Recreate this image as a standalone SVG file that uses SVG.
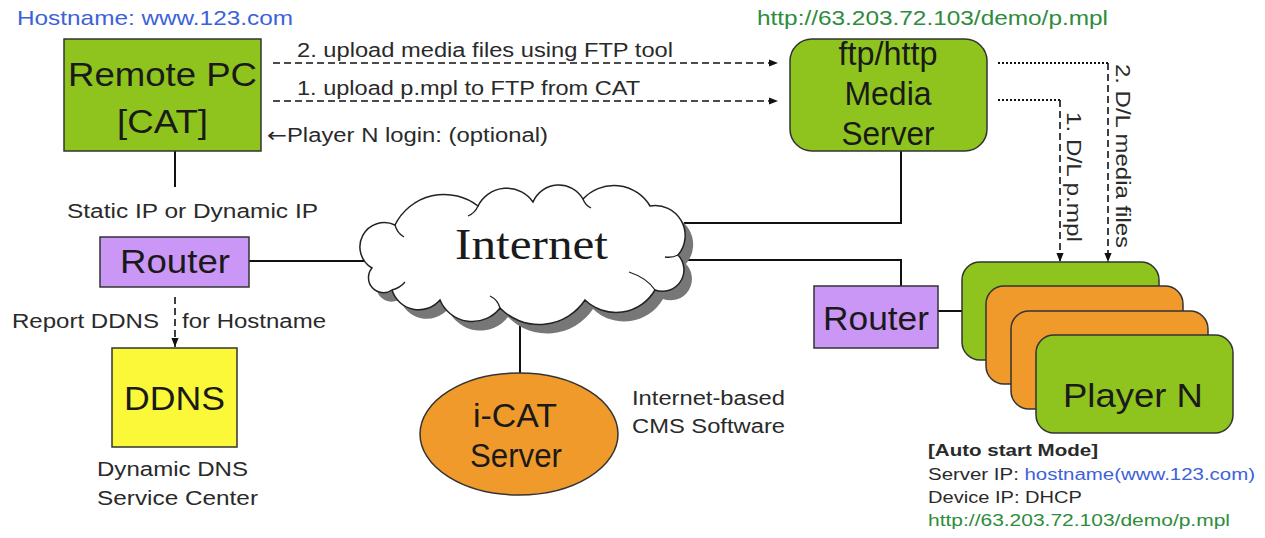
<svg xmlns="http://www.w3.org/2000/svg" width="1265" height="538" viewBox="0 0 1265 538">
<style>
.box{stroke:#333;stroke-width:1.5}
.green{fill:#8fc41f}
.orange{fill:#f09a2c}
.purple{fill:#ca97f7}
.yellow{fill:#fbf83a}
.t{font-family:"Liberation Sans",Arial,Helvetica,sans-serif;fill:#1a1a1a}
.big{font-size:33px}
.lbl{font-size:20px;fill:#2a2a2a}
.small{font-size:16px;fill:#2a2a2a}
.blue{fill:#3d62d8}
.url{fill:#2e8c3c}
.conn{stroke:#111;stroke-width:2;fill:none}
.dash{stroke-dasharray:7 4;stroke-width:1.6}
.dot{stroke-dasharray:2 2;stroke-width:2}
</style>
<defs>
<marker id="ah" viewBox="0 0 10 10" refX="10" refY="5" markerWidth="9" markerHeight="9" markerUnits="userSpaceOnUse" orient="auto">
<path d="M0,1 L10,5 L0,9 z" fill="#111"/>
</marker>
<path id="cloudShape" d="M372,268 A24.4,24.4 0 0 1 395,225 A55,55 0 0 1 478,206 A32,32 0 0 1 533,202 A28,28 0 0 1 583,199 A42,42 0 0 1 650,206 A30,30 0 0 1 678,255 A21.5,21.5 0 0 1 655,290 A45,45 0 0 1 585,300 A55,55 0 0 1 500,308 A35,35 0 0 1 440,300 A28,28 0 0 1 392,290 A15,15 0 0 1 372,268 Z"/>
</defs>
<rect width="1265" height="538" fill="#ffffff"/>

<g id="connectors">
<path class="conn" d="M175,151 V187"/>
<path class="conn dash" d="M273,63 H778" marker-end="url(#ah)"/>
<path class="conn dash" d="M273,101 H778" marker-end="url(#ah)"/>
<path class="conn dash" d="M175,297 V347" marker-end="url(#ah)"/>
<path class="conn" d="M249,261 H364"/>
<path class="conn" d="M520,316 V373"/>
<path class="conn" d="M901,151 V223 H684"/>
<path class="conn" d="M688,260 H901 V286"/>
<path class="conn" d="M938,311 H962"/>
<path class="conn dot" d="M998,63 H1108"/>
<path class="conn dash" d="M1108,63 V262" marker-end="url(#ah)"/>
<path class="conn dot" d="M998,100 H1060"/>
<path class="conn dash" d="M1060,100 V262" marker-end="url(#ah)"/>
</g>

<g id="hostname-label">
<text class="t blue" x="17" y="25" font-size="21" textLength="276" lengthAdjust="spacingAndGlyphs">Hostname: www.123.com</text>
</g>

<g id="remote-pc">
<rect class="box green" x="64" y="39" width="197" height="112"/>
<text class="t big" x="162.5" y="86" text-anchor="middle" textLength="189" lengthAdjust="spacingAndGlyphs">Remote PC</text>
<text class="t big" x="162.5" y="133" text-anchor="middle" textLength="91" lengthAdjust="spacingAndGlyphs">[CAT]</text>
</g>

<g id="upload-labels">
<text class="t lbl" x="297" y="57" textLength="376" lengthAdjust="spacingAndGlyphs">2. upload media files using FTP tool</text>
<text class="t lbl" x="297" y="95" textLength="343" lengthAdjust="spacingAndGlyphs">1. upload p.mpl to FTP from CAT</text>
<text class="t lbl" x="267" y="142" textLength="281" lengthAdjust="spacingAndGlyphs"><tspan font-family="'DejaVu Sans',sans-serif">←</tspan>Player N login: (optional)</text>
</g>

<g id="media-server">
<text class="t url" x="757" y="25" font-size="20" textLength="351" lengthAdjust="spacingAndGlyphs">http://63.203.72.103/demo/p.mpl</text>
<rect class="box green" x="790" y="39" width="197" height="112" rx="22" ry="22"/>
<text class="t big" x="888" y="65" text-anchor="middle" textLength="99" lengthAdjust="spacingAndGlyphs">ftp/http</text>
<text class="t big" x="888" y="105" text-anchor="middle" textLength="87" lengthAdjust="spacingAndGlyphs">Media</text>
<text class="t big" x="888" y="145" text-anchor="middle" textLength="93" lengthAdjust="spacingAndGlyphs">Server</text>
</g>

<g id="download-labels">
<text class="t lbl" transform="translate(1116,64) rotate(90)" font-size="19" textLength="184" lengthAdjust="spacingAndGlyphs">2. D/L media files</text>
<text class="t lbl" transform="translate(1067,112) rotate(90)" font-size="19" textLength="130" lengthAdjust="spacingAndGlyphs">1. D/L p.mpl</text>
</g>

<g id="router-left">
<text class="t lbl" x="67" y="218" textLength="251" lengthAdjust="spacingAndGlyphs">Static IP or Dynamic IP</text>
<rect class="box purple" x="100" y="237" width="149" height="50"/>
<text class="t big" x="175" y="273" text-anchor="middle" textLength="110" lengthAdjust="spacingAndGlyphs">Router</text>
</g>

<g id="ddns-labels">
<text class="t lbl" x="12" y="328" textLength="147" lengthAdjust="spacingAndGlyphs">Report DDNS</text>
<text class="t lbl" x="182" y="328" textLength="144" lengthAdjust="spacingAndGlyphs">for Hostname</text>
</g>

<g id="ddns">
<rect class="box yellow" x="112" y="348" width="125" height="99"/>
<text class="t big" x="174.5" y="410" text-anchor="middle" textLength="101" lengthAdjust="spacingAndGlyphs">DDNS</text>
<text class="t lbl" x="172.5" y="476" text-anchor="middle" textLength="151" lengthAdjust="spacingAndGlyphs">Dynamic DNS</text>
<text class="t lbl" x="177.5" y="505" text-anchor="middle" textLength="161" lengthAdjust="spacingAndGlyphs">Service Center</text>
</g>

<g id="internet-cloud">
<use href="#cloudShape" transform="translate(8,9)" fill="#777"/>
<use href="#cloudShape" fill="#ffffff" stroke="#222" stroke-width="1.5"/>
<g fill="none" stroke="#222" stroke-width="1.3">
<path d="M395,225 q2,8 9,12"/>
<path d="M478,206 q-3,7 -10,10"/>
<path d="M583,199 q2,6 8,9"/>
<path d="M678,255 q-6,3 -13,2"/>
<path d="M655,290 q-8,-12 -26,-18"/>
<path d="M500,308 q-2,-8 -10,-12"/>
<path d="M392,290 q8,-2 13,-8"/>
</g>
<text x="531.5" y="259" text-anchor="middle" font-family="'Liberation Serif','Times New Roman',serif" font-size="44" fill="#1a1a1a" textLength="153" lengthAdjust="spacingAndGlyphs">Internet</text>
</g>

<g id="icat-server">
<ellipse class="box orange" cx="519" cy="434" rx="99" ry="61"/>
<text class="t big" x="515" y="427" text-anchor="middle" textLength="84" lengthAdjust="spacingAndGlyphs">i-CAT</text>
<text class="t big" x="516" y="467" text-anchor="middle" textLength="92" lengthAdjust="spacingAndGlyphs">Server</text>
<text class="t lbl" x="632" y="405" textLength="153" lengthAdjust="spacingAndGlyphs">Internet-based</text>
<text class="t lbl" x="632" y="433" textLength="153" lengthAdjust="spacingAndGlyphs">CMS Software</text>
</g>

<g id="router-right">
<rect class="box purple" x="814" y="286" width="124" height="62"/>
<text class="t big" x="876" y="330" text-anchor="middle" textLength="106" lengthAdjust="spacingAndGlyphs">Router</text>
</g>

<g id="players">
<rect class="box green" x="962" y="262" width="197" height="98" rx="18" ry="18"/>
<rect class="box orange" x="986" y="286" width="197" height="98" rx="18" ry="18"/>
<rect class="box orange" x="1011" y="311" width="197" height="98" rx="18" ry="18"/>
<rect class="box green" x="1036" y="335" width="197" height="98" rx="18" ry="18"/>
<text class="t big" x="1133" y="407" text-anchor="middle" textLength="140" lengthAdjust="spacingAndGlyphs">Player N</text>
</g>

<g id="auto-start-notes">
<text class="t small" x="928" y="456" font-weight="bold" textLength="170" lengthAdjust="spacingAndGlyphs">[Auto start Mode]</text>
<text class="t small" x="928" y="480" textLength="327" lengthAdjust="spacingAndGlyphs">Server IP: <tspan class="blue">hostname(www.123.com)</tspan></text>
<text class="t small" x="928" y="503" textLength="154" lengthAdjust="spacingAndGlyphs">Device IP: DHCP</text>
<text class="t small url" x="928" y="526" textLength="302" lengthAdjust="spacingAndGlyphs">http://63.203.72.103/demo/p.mpl</text>
</g>
</svg>
